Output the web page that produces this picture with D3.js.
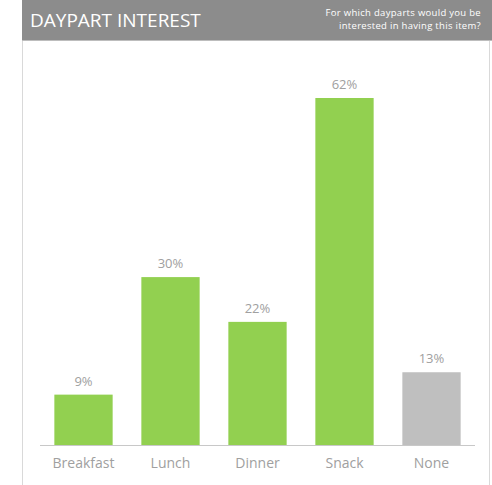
<!DOCTYPE html>
<html><head><meta charset="utf-8">
<script src="https://cdn.jsdelivr.net/npm/d3@7"></script>
<style>html,body{margin:0;padding:0;background:#fff;}svg{display:block;}</style>
</head><body>
<script>
const categories = ["Breakfast","Lunch","Dinner","Snack","None"];
const values = [0.09, 0.30, 0.22, 0.62, 0.13];
const labels = ["9%","30%","22%","62%","13%"];
const colors = ["#92d050","#92d050","#92d050","#92d050","#bfbfbf"];
const title = "DAYPART INTEREST";
const subtitle = ["For which dayparts would you be","interested in having this item?"];

const W = 492, H = 485;
const font = "'Century Gothic', 'Open Sans', Lato, sans-serif";
const svg = d3.select("body").append("svg").attr("width", W).attr("height", H);

// panel borders
svg.append("line").attr("x1",22.5).attr("x2",22.5).attr("y1",40).attr("y2",H).attr("stroke","#d9d9d9");
svg.append("line").attr("x1",489.5).attr("x2",489.5).attr("y1",40).attr("y2",H).attr("stroke","#d9d9d9");

// header band
svg.append("rect").attr("x",22).attr("y",0).attr("width",W-22).attr("height",40).attr("fill","#8c8c8c");
svg.append("line").attr("x1",22).attr("x2",W).attr("y1",40.5).attr("y2",40.5).attr("stroke","#bdbdbd");
svg.append("text").attr("x",30).attr("y",27).attr("fill","#fff")
  .attr("font-family",font).attr("font-size",19).attr("font-weight",400).text(title);
svg.selectAll("text.sub").data(subtitle).join("text").attr("class","sub")
  .attr("x",481).attr("y",(d,i)=>16+i*13).attr("text-anchor","end").attr("fill","#fff")
  .attr("font-family",font).attr("font-size",9.5).attr("letter-spacing",0.3).text(d=>d);

const x = d3.scaleBand().domain(categories).range([40,475]).paddingInner(0.33).paddingOuter(0.165);
const y = d3.scaleLinear().domain([0,0.62]).range([445,98]);

svg.selectAll("rect.bar").data(values).join("rect").attr("class","bar")
  .attr("x",(d,i)=>x(categories[i])).attr("width",x.bandwidth())
  .attr("y",d=>y(d)).attr("height",d=>y(0)-y(d)).attr("fill",(d,i)=>colors[i]);

svg.selectAll("text.val").data(values).join("text").attr("class","val")
  .attr("x",(d,i)=>x(categories[i])+x.bandwidth()/2).attr("y",d=>y(d)-9)
  .attr("text-anchor","middle").attr("fill","#a0a0a0").attr("font-family",font).attr("font-size",13)
  .text((d,i)=>labels[i]);

const axis = svg.append("g").attr("transform","translate(0,445)")
  .call(d3.axisBottom(x).tickSize(0).tickPadding(13));
axis.select(".domain").attr("stroke","#c8c8c8").attr("d","M40,0.5H475");
axis.selectAll("text").attr("fill","#a0a0a0").attr("font-family",font).attr("font-size",14);
</script>
</body></html>
